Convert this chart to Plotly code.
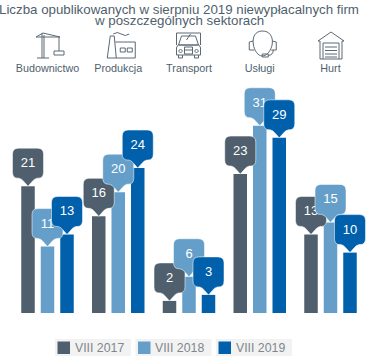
import plotly.graph_objects as go

TITLE_LINES = ["Liczba opublikowanych w sierpniu 2019 niewypłacalnych firm", "w poszczególnych sektorach"]
CATEGORIES = ["Budownictwo", "Produkcja", "Transport", "Usługi", "Hurt"]
SERIES_NAMES = ["VIII 2017", "VIII 2018", "VIII 2019"]
VALUES_2017 = [21, 16, 2, 23, 13]
VALUES_2018 = [11, 20, 6, 31, 15]
VALUES_2019 = [13, 24, 3, 29, 10]
COLORS = ["#4f5f6d", "#659fc9", "#0060ab"]

ALL_VALUES = [VALUES_2017, VALUES_2018, VALUES_2019]
W, H = 368, 360
TOP, BOTTOM = 75, 47
FONT = "Liberation Sans, Arial, sans-serif"
INK = "#4f5f6d"

SLOT = 19.5 / 70.75
BARGAP = 1 - 3 * SLOT
XRANGE = [-47.5 / 70.75, (W - 47.5) / 70.75]
YRANGE = [0, (H - TOP - BOTTOM) / 6.04]

xs = list(range(len(CATEGORIES)))
fig = go.Figure()
for name, vals, col in zip(SERIES_NAMES, ALL_VALUES, COLORS):
    fig.add_bar(x=xs, y=vals, name=name, marker=dict(color=col, line=dict(width=0)), showlegend=False)

shapes, annotations = [], []

# callout outline, in px relative to the top of its bar (y up)
CALLOUT = ("M0,0 L-4,4.5 Q-6,7.5 -9,8 L-10,8 Q-15.5,8 -15.5,14 L-15.5,32 Q-15.5,38 -9.5,38 "
           "L9.5,38 Q15.5,38 15.5,32 L15.5,14 Q15.5,8 10,8 L9,8 Q6,7.5 4,4.5 Z")
for i in xs:
    for j, (vals, col) in enumerate(zip(ALL_VALUES, COLORS)):
        shapes.append(dict(
            type="path", xref="x", yref="y", xsizemode="pixel", ysizemode="pixel",
            xanchor=i + (j - 1) * SLOT, yanchor=vals[i], path=CALLOUT,
            fillcolor=col, line=dict(color="rgba(255,255,255,0.75)", width=0.7),
            label=dict(text=str(vals[i]), textposition="top center", padding=6,
                       font=dict(family=FONT, size=13, color="white")),
        ))


def px_path(points_cmds, x0):
    out = []
    for c in points_cmds:
        if isinstance(c, str):
            out.append(c)
        else:
            out.append(f"{c[0]-x0:.1f},{TOP-c[1]:.1f}")
    return " ".join(out)


ICON_PATHS = [
    # crane
    (47.5, [["M", (42, 33), "L", (42, 58)], ["M", (44, 35), "L", (44, 58)], ["M", (37, 58), "L", (49, 58)],
            ["M", (36, 37), "L", (60, 37)], ["M", (43, 33), "L", (60, 37)], ["M", (43, 33), "L", (36, 37)],
            ["M", (59, 37), "L", (59, 51)], ["M", (54, 51), "L", (64, 51), "L", (64, 55), "L", (54, 55), "Z"]]),
    # factory
    (118, [["M", (107, 58), "L", (110, 36), "L", (114, 36), "L", (116, 58)],
           ["M", (107, 58), "L", (135, 58), "L", (135, 42), "L", (115, 42)],
           ["M", (120, 48), "L", (125, 48), "L", (125, 52), "L", (120, 52), "Z"],
           ["M", (127, 48), "L", (132, 48), "L", (132, 52), "L", (127, 52), "Z"],
           ["M", (113, 34), "Q", (117, 31), (121, 34), "T", (129, 34)]]),
    # truck
    (188.5, [["M", (176, 33), "L", (200, 33), "L", (200, 45)], ["M", (176, 33), "L", (176, 45)],
             ["M", (181, 36), "L", (195, 36), "L", (198, 45), "L", (178, 45), "Z"], ["M", (186, 40), "L", (190, 34)],
             ["M", (178, 45), "L", (198, 45), "Q", (200, 46), (200, 48), "L", (200, 55), "L", (176, 55), "L", (176, 48), "Q", (176, 46), (178, 45), "Z"],
             ["M", (184, 47), "L", (192, 47), "L", (192, 54), "L", (184, 54), "Z"], ["M", (184, 50), "L", (192, 50)],
             ["M", (180, 49), "L", (182, 51), "L", (180, 53), "L", (178, 51), "Z"],
             ["M", (196, 49), "L", (198, 51), "L", (196, 53), "L", (194, 51), "Z"],
             ["M", (178, 55), "L", (178, 58), "L", (182, 58), "L", (182, 55)],
             ["M", (194, 55), "L", (194, 58), "L", (198, 58), "L", (198, 55)]]),
    # headset
    (259.5, [["M", (262, 31), "C", (255, 31), (252, 37), (253, 44), "C", (254, 51), (258, 56), (262, 56),
              "C", (267, 56), (271, 50), (272, 44), "C", (273, 36), (269, 31), (262, 31), "Z"],
             ["M", (253, 41), "L", (249, 42), "L", (249, 50), "L", (254, 50)],
             ["M", (272, 41), "L", (276, 42), "L", (276, 50), "L", (271, 50)],
             ["M", (273, 50), "Q", (273, 55), (268, 55.5)],
             ["M", (262, 54), "L", (268, 54), "L", (268, 57), "L", (262, 57), "Z"]]),
    # warehouse
    (330.5, [["M", (318, 41), "L", (331, 32), "L", (344, 41), "L", (342, 41), "L", (342, 59), "L", (320, 59), "L", (320, 41), "Z"],
             ["M", (323, 59), "L", (323, 43), "L", (339, 43), "L", (339, 59)],
             ["M", (325, 47), "L", (337, 47)], ["M", (325, 50.5), "L", (337, 50.5)],
             ["M", (325, 54), "L", (337, 54)], ["M", (325, 57), "L", (337, 57)]]),
]
for i, (x0, parts) in enumerate(ICON_PATHS):
    d = " ".join(px_path(p, x0) for p in parts)
    shapes.append(dict(type="path", xref="x", yref="paper", xsizemode="pixel", ysizemode="pixel",
                       xanchor=i, yanchor=1, path=d, line=dict(color="#5b6974", width=1)))

PH = H - TOP - BOTTOM
def py(v):
    return -(v - (H - BOTTOM)) / PH

# legend chips (drawn by hand, each in its own grey box)
for k, (name, col) in enumerate(zip(SERIES_NAMES, COLORS)):
    bx = 55 + k * 80.5
    shapes.append(dict(type="rect", xref="paper", yref="paper", x0=bx / W, x1=(bx + 76) / W,
                       y0=py(356), y1=py(339), fillcolor="#f2f2f2", line=dict(width=0), layer="below"))
    shapes.append(dict(type="rect", xref="paper", yref="paper", x0=(bx + 2.5) / W, x1=(bx + 15) / W,
                       y0=py(354), y1=py(341.5), fillcolor=col, line=dict(width=0)))
    annotations.append(dict(text=name, xref="paper", yref="paper", x=(bx + 18.5) / W, xanchor="left",
                            y=py(348), yanchor="middle", showarrow=False,
                            font=dict(family=FONT, size=12.3, color="#7f868c"), borderpad=0))

for line, yy in zip(TITLE_LINES, (9.5, 20.7)):
    annotations.append(dict(text=line, xref="paper", yref="paper", x=178.5 / W, xanchor="center",
                            y=py(yy), yanchor="middle", showarrow=False,
                            font=dict(family=FONT, size=13.3, color=INK), borderpad=0))

fig.update_layout(
    width=W, height=H, margin=dict(l=0, r=0, t=TOP, b=BOTTOM, pad=0),
    paper_bgcolor="white", plot_bgcolor="white",
    barmode="group", bargap=BARGAP, bargroupgap=1 - 13.5 / 19.5,
    xaxis=dict(range=XRANGE, side="top", tickmode="array", tickvals=xs, ticktext=CATEGORIES, ticks="",
               showgrid=False, zeroline=False, showline=False, fixedrange=True,
               tickfont=dict(family=FONT, size=10.8, color=INK)),
    yaxis=dict(range=YRANGE, visible=False, fixedrange=True),
    shapes=shapes, annotations=annotations, showlegend=False,
)
fig.write_html("out.html", config=dict(displayModeBar=False), post_script="document.body.style.margin='0';")
